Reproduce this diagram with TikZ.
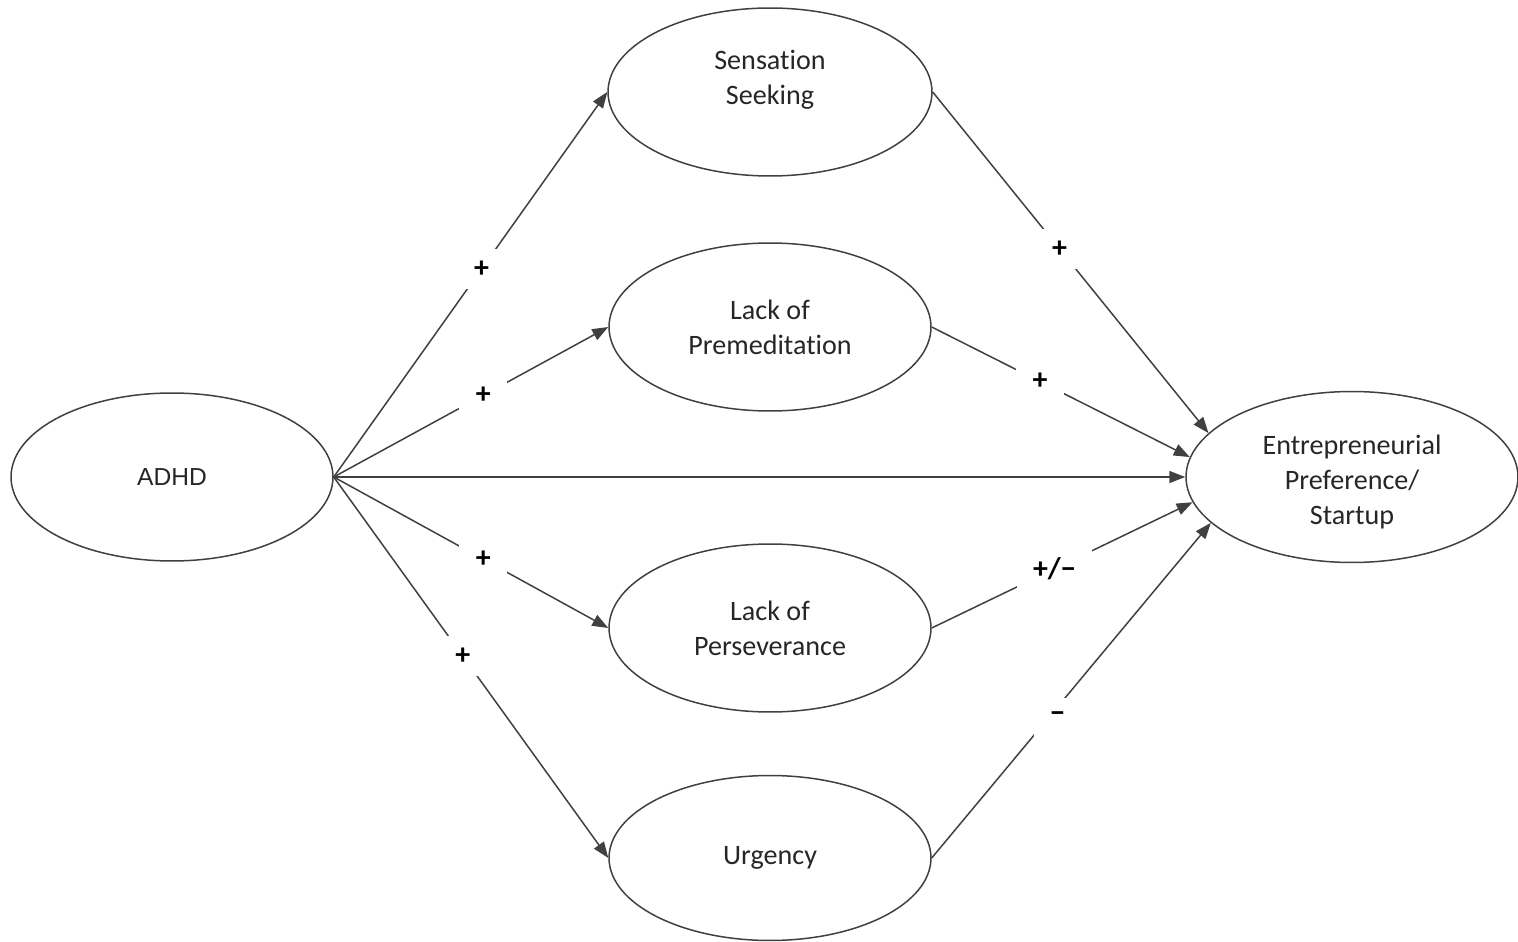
\documentclass[tikz,border=0pt]{standalone}
\usepackage{fontspec}
\setmainfont[RawFeature=-liga]{Carlito}
\newfontfamily\arialf{Liberation Sans}
\usetikzlibrary{shapes.geometric,arrows.meta}
\begin{document}
\begin{tikzpicture}[x=0.02cm,y=-0.02cm,
  ell/.style={draw=black!75, line width=0.03cm, ellipse, minimum width=6.44cm,
    minimum height=3.36cm, inner sep=0pt, font=\fontsize{16}{19.9}\selectfont,
    text=black!85, align=center},
  txt/.style={inner sep=0pt, font=\fontsize{16}{19.9}\selectfont, text=black!85, align=center},
  conn/.style={draw=black!75, line width=0.03cm, -{Triangle[length=0.32cm,width=0.24cm]}},
  sign/.style={fill=white, inner xsep=0.33cm, inner ysep=0pt, minimum height=0.8cm,
    font=\fontsize{17}{19}\selectfont\bfseries, text=black}]
\useasboundingbox (0,0) rectangle (1518,942);
\node[ell, font=\arialf\fontsize{14}{17}\selectfont] (adhd) at (172,477) {ADHD};
\node[ell, minimum width=6.48cm] (ss) at (770,92) {};
\node[txt] (sst) at (770,80) {Sensation\\Seeking};
\node[ell] (prem) at (770,327) {Lack of\\Premeditation};
\node[ell] (pers) at (770,628) {Lack of\\Perseverance};
\node[ell, minimum height=3.3cm] (urg) at (770,858) {Urgency};
\node[ell, minimum width=6.64cm, minimum height=3.42cm] (ent) at (1352,477) {};
\node[txt] (entt) at (1352,482) {Entrepreneurial\\Preference/\\Startup};
\draw[conn] (adhd.east) -- node[sign,pos=0.54]{+} (ss.west);
\draw[conn] (adhd.east) -- node[sign,pos=0.545]{+} (prem.west);
\draw[conn] (adhd.east) -- (ent.west);
\draw[conn] (adhd.east) -- node[sign,pos=0.545]{+} (pers.west);
\draw[conn] (adhd.east) -- node[sign,pos=0.47]{+} (urg.west);
\draw[conn] (ss.east) -- node[sign,pos=0.46]{+} (ent.163);
\draw[conn] (prem.east) -- node[sign,pos=0.42]{+} (ent.173);
\draw[conn] (pers.east) -- node[sign,pos=0.47]{+/\symbol{"2212}} (ent.189);
\draw[conn] (urg.east) -- node[sign,pos=0.44,yshift=-0.14cm,xshift=0.06cm]{\symbol{"2212}} (ent.198);
\end{tikzpicture}
\end{document}
